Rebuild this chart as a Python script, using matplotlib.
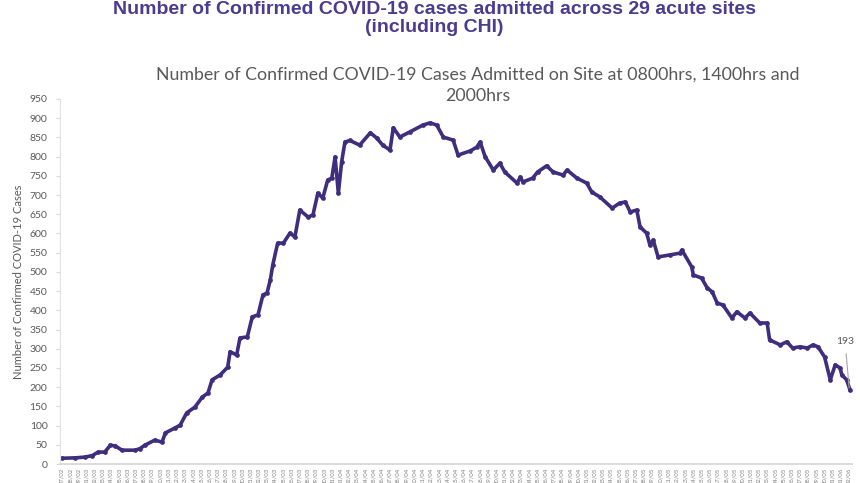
import numpy as np
import pandas as pd
import matplotlib
matplotlib.use('Agg')
import matplotlib.pyplot as plt

# days since start of series
days = [0.0, 1.6, 2.8, 3.7, 4.4, 5.2, 5.9, 6.5, 7.3, 8.9, 9.5, 10.1, 11.3, 12.2, 12.6,
        13.8, 14.4, 15.2, 16.2, 17.1, 17.8, 18.3, 19.3, 20.2, 20.5, 21.3, 21.7, 22.6,
        23.2, 23.9, 24.5, 25.0, 25.4, 25.7, 26.3, 27.0, 27.8, 28.4, 29.0, 30.0, 30.6,
        31.2, 31.8, 32.4, 32.9, 33.3, 33.7, 34.1, 34.5, 35.1, 36.3, 37.6, 38.4, 39.1,
        40.0, 40.4, 41.2, 42.4, 44.0, 44.9, 45.7, 46.5, 47.7, 48.3, 49.8, 50.6, 51.0,
        51.6, 52.6, 53.4, 54.0, 55.5, 55.9, 56.2, 57.4, 58.0, 59.1, 59.9, 61.1, 61.6,
        62.8, 64.0, 64.6, 65.6, 67.1, 68.0, 68.7, 69.3, 70.1, 70.5, 71.3, 71.7, 72.1,
        72.7, 74.1, 75.4, 75.6, 76.8, 77.0, 78.0, 78.7, 79.3, 79.9, 80.6, 81.7, 82.3,
        83.3, 83.9, 85.1, 86.0, 86.3, 87.6, 88.4, 89.1, 90.0, 90.9, 91.6, 92.2, 93.0,
        93.7, 94.3, 94.9, 95.1, 95.7, 96.1]
cases = [15, 16, 18, 22, 31, 31, 49, 47, 36, 36, 40, 49, 62, 57, 81,
         94, 101, 133, 148, 174, 185, 219, 232, 252, 292, 284, 328, 331,
         383, 388, 440, 445, 479, 518, 575, 575, 601, 591, 661, 643, 648,
         705, 692, 739, 744, 799, 705, 786, 838, 842, 830, 862, 848, 830,
         817, 875, 851, 864, 882, 888, 882, 851, 843, 804, 815, 825, 838,
         800, 765, 783, 760, 731, 747, 734, 744, 760, 776, 760, 752, 765,
         744, 731, 708, 695, 666, 679, 682, 656, 661, 617, 601, 570, 583,
         539, 544, 549, 557, 513, 492, 484, 458, 448, 419, 414, 380, 396,
         380, 393, 367, 367, 323, 310, 318, 302, 305, 302, 310, 305, 279,
         219, 258, 250, 232, 219, 193]

start = pd.Timestamp('2020-02-27')
n_days = 97
tick_days = np.arange(n_days)
tick_labels = [(start + pd.Timedelta(days=int(d))).strftime('%d/%m') for d in tick_days]

purple = '#3f2d7e'
grey = '#595959'

fig = plt.figure(figsize=(8.6, 4.83), dpi=100)
ax = fig.add_axes([60 / 860, 1 - 464 / 483, 792 / 860, 365 / 483])

ax.plot(days, cases, color=purple, lw=2.6, marker='o', ms=3.4, mew=0)
ax.set_xlim(-0.25, 96.35)
ax.set_ylim(0, 950)
ax.set_yticks(np.arange(0, 951, 50))
ax.set_xticks(tick_days)
ax.set_xticklabels(tick_labels, rotation=90, fontsize=4.2, color='#7f7f7f',
                   family='Lato')
ax.tick_params(axis='x', length=0, pad=2.5)
ax.tick_params(axis='y', length=3, color='#d9d9d9', labelsize=7.5, labelcolor=grey,
               pad=6)
for lab in ax.get_yticklabels():
    lab.set_family('Lato')

for s in ['top', 'right']:
    ax.spines[s].set_visible(False)
ax.spines['left'].set_color('#e3e3e3')
ax.spines['bottom'].set_color('#d9d9d9')
ax.spines['bottom'].set_linewidth(1.3)

ax.set_ylabel('Number of Confirmed COVID-19 Cases', fontsize=8, color=grey,
              family='Lato', labelpad=4)

# last value label
ax.annotate('193', xy=(96.0, 198), xytext=(95.5, 320), fontsize=7.5, color=grey,
            family='Lato', ha='center', va='center',
            arrowprops=dict(arrowstyle='-', color='#a6a6a6', lw=0.8, shrinkA=4, shrinkB=0))

fig.text(0.555, 1 - 85 / 483,
         'Number of Confirmed COVID-19 Cases Admitted on Site at 0800hrs, 1400hrs and\n2000hrs',
         ha='center', va='center', ma='center', fontsize=12.8, color=grey,
         family='Lato', linespacing=1.4)

fig.text(0.505, 1 - 9 / 483, 'Number of Confirmed COVID-19 cases admitted across 29 acute sites',
         ha='center', va='center', fontsize=14, fontweight='bold', color='#4b3c8e',
         family='Liberation Sans')
fig.text(0.505, 1 - 28 / 483, '(including CHI)', ha='center', va='center', fontsize=14,
         fontweight='bold', color='#4b3c8e', family='Liberation Sans')

fig.savefig('out.png', dpi=100)
